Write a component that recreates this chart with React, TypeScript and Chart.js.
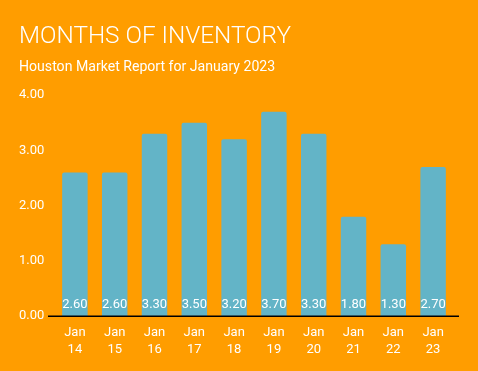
import React, { useEffect, useRef } from "react";
import { Chart, registerables } from "chart.js";

Chart.register(...registerables);

const titleText = "MONTHS OF INVENTORY";
const subtitleText = "Houston Market Report for January 2023";
const categories: string[][] = [
  ["Jan", "14"], ["Jan", "15"], ["Jan", "16"], ["Jan", "17"], ["Jan", "18"],
  ["Jan", "19"], ["Jan", "20"], ["Jan", "21"], ["Jan", "22"], ["Jan", "23"],
];
const inventoryValues: number[] = [2.6, 2.6, 3.3, 3.5, 3.2, 3.7, 3.3, 1.8, 1.3, 2.7];
const yTickValues: number[] = [0, 1, 2, 3, 4];

const BG = "#FF9D00";
const BAR = "#63B4C7";
const FONT = "Roboto, 'Noto Sans', sans-serif";

const labelPlugin = {
  id: "barLabels",
  afterDatasetsDraw(chart: any) {
    const ctx = chart.ctx;
    const meta = chart.getDatasetMeta(0);
    ctx.save();
    ctx.fillStyle = "#FFFFFF";
    ctx.font = `13px ${FONT}`;
    ctx.textAlign = "center";
    ctx.textBaseline = "middle";
    meta.data.forEach((bar: any, i: number) => {
      ctx.fillText(inventoryValues[i].toFixed(2), bar.x, bar.base - 11);
    });
    ctx.restore();
  },
};

const axisLinePlugin = {
  id: "axisLine",
  afterDatasetsDraw(chart: any) {
    const ctx = chart.ctx;
    const { left, right } = chart.chartArea;
    const y = chart.scales.y.getPixelForValue(0);
    ctx.save();
    ctx.strokeStyle = "#000000";
    ctx.lineWidth = 1.5;
    ctx.beginPath();
    ctx.moveTo(left - 7, y);
    ctx.lineTo(right + 6, y);
    ctx.stroke();
    ctx.restore();
  },
};

export default function App() {
  const ref = useRef<HTMLCanvasElement | null>(null);
  useEffect(() => {
    document.body.style.margin = "0";
    const canvas = ref.current;
    if (!canvas) return;
    const chart = new Chart(canvas, {
      type: "bar",
      data: {
        labels: categories,
        datasets: [
          {
            data: inventoryValues,
            backgroundColor: BAR,
            borderRadius: { topLeft: 2, topRight: 2, bottomLeft: 0, bottomRight: 0 },
            borderSkipped: "bottom",
            barPercentage: 0.8,
            categoryPercentage: 0.8,
          },
        ],
      },
      options: {
        responsive: false,
        animation: false,
        devicePixelRatio: 1,
        layout: { padding: { top: 22, left: 19, right: 25, bottom: 5 } },
        plugins: {
          legend: { display: false },
          tooltip: { enabled: false },
          title: {
            display: true,
            text: titleText,
            align: "start",
            color: "#FFFFFF",
            font: { family: FONT, size: 24.3, weight: "300" as any, lineHeight: 1.2 },
            padding: { top: 0, bottom: 8 },
          },
          subtitle: {
            display: true,
            text: subtitleText,
            align: "start",
            color: "#FFFFFF",
            font: { family: FONT, size: 14.1, weight: "normal", lineHeight: 1.2 },
            padding: { top: 0, bottom: 19 },
          },
        },
        scales: {
          x: {
            grid: { display: false, drawTicks: false },
            border: { display: false },
            ticks: {
              color: "#FFFFFF",
              font: { family: FONT, size: 13, lineHeight: 1.3 },
              padding: 8,
              maxRotation: 0,
              autoSkip: false,
            },
          },
          y: {
            min: 0,
            max: 4,
            afterFit(scale: any) {
              scale.width = 36;
            },
            afterBuildTicks(scale: any) {
              scale.ticks = yTickValues.map((v) => ({ value: v }));
            },
            grid: { display: false, drawTicks: false },
            border: { display: false },
            ticks: {
              color: "#FFFFFF",
              font: { family: FONT, size: 13 },
              padding: 12,
              crossAlign: "far",
              callback: (v: any) => Number(v).toFixed(2),
            },
          },
        },
      },
      plugins: [labelPlugin, axisLinePlugin],
    });
    return () => chart.destroy();
  }, []);
  return (
    <div style={{ position: "absolute", left: 0, top: 0, width: 478, height: 371, background: BG }}>
      <canvas ref={ref} width={478} height={371} style={{ display: "block" }} />
    </div>
  );
}
